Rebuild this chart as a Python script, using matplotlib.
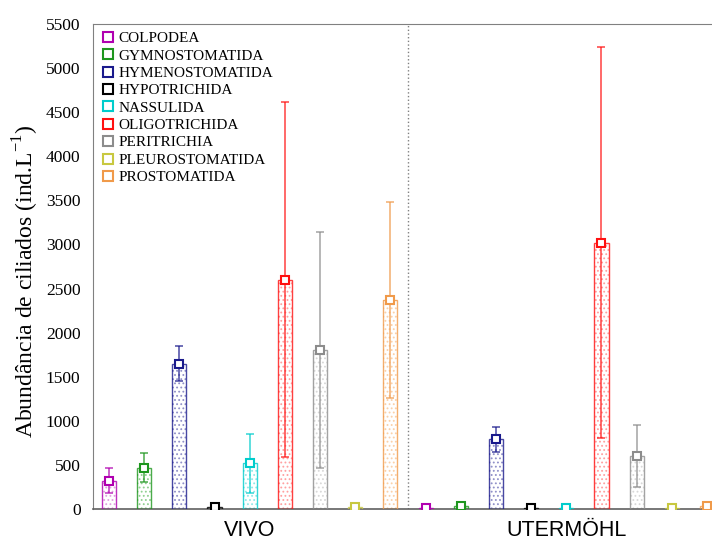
import matplotlib
matplotlib.use("Agg")
import matplotlib.pyplot as plt
from matplotlib.lines import Line2D
import numpy as np

groups = ["VIVO", "UTERMÖHL"]
taxa = ["COLPODEA", "GYMNOSTOMATIDA", "HYMENOSTOMATIDA", "HYPOTRICHIDA",
        "NASSULIDA", "OLIGOTRICHIDA", "PERITRICHIA", "PLEUROSTOMATIDA", "PROSTOMATIDA"]
colors = ["#B000B0", "#1E961E", "#1A1A8C", "#000000", "#00CCCC",
          "#FF1010", "#8C8C8C", "#C8C840", "#F09A4A"]
light = ["#E0A0E0", "#90D090", "#9090C8", "#909090", "#90E8E8",
         "#FFA0A0", "#D8D8D8", "#E8E8A8", "#FAD0A8"]

vivo_mean = [320, 470, 1650, 20, 520, 2600, 1800, 20, 2370]
vivo_err = [140, 160, 200, 0, 335, 2010, 1340, 0, 1110]
uter_mean = [10, 30, 790, 10, 10, 3020, 600, 10, 35]
uter_err = [0, 0, 145, 0, 0, 2220, 350, 0, 0]

plt.rcParams['font.family'] = ['Liberation Serif', 'DejaVu Serif']
plt.rcParams['hatch.linewidth'] = 0.8

fig = plt.figure(figsize=(7.12, 5.4), dpi=100)
ax = fig.add_axes([93/712, 31/540, (723-93)/712, (509-24)/540])

n = len(taxa)
for g, (means, errs) in enumerate([(vivo_mean, vivo_err), (uter_mean, uter_err)]):
    for i in range(n):
        x = g * n + i
        m = means[i]
        e = errs[i]
        ax.bar(x, m, width=0.4, facecolor="white", edgecolor=light[i],
               hatch="....", linewidth=0, zorder=2)
        ax.bar(x, m, width=0.4, facecolor="none", edgecolor=colors[i],
               linewidth=1.0, alpha=0.8, zorder=3)
        if e > 0:
            ax.errorbar(x, m, yerr=e, fmt="none", ecolor=colors[i], alpha=0.8,
                        elinewidth=1.1, capsize=3, capthick=1.1, zorder=4)
        ax.plot(x, m, marker="s", markersize=5.5, markerfacecolor="white",
                markeredgecolor=colors[i], markeredgewidth=1.5, zorder=5)

ax.axvline(n - 0.5, color="#808080", linestyle=":", linewidth=1.0, zorder=1)

ax.set_xlim(-0.455, 2 * n - 0.545)
ax.set_ylim(0, 5500)
ax.set_yticks(np.arange(0, 5501, 500))
ax.set_yticklabels([str(v) for v in range(0, 5501, 500)],
                   family=["Liberation Serif", "DejaVu Serif"], fontsize=12.5)
ax.tick_params(axis="y", length=0, pad=9)
ax.set_xticks([4, 13])
ax.set_xticklabels(groups, family=["Liberation Sans", "DejaVu Sans"], fontsize=15.5)
ax.tick_params(axis="x", length=0, pad=8)

for s in ["left", "top"]:
    ax.spines[s].set_color("#808080")
ax.spines["bottom"].set_color("#606060")
ax.spines["bottom"].set_linewidth(1.2)
ax.spines["right"].set_visible(False)

ax.set_ylabel("Abundância de ciliados (ind.L$^{\\mathregular{-1}}$)", fontsize=17)
ax.yaxis.set_label_coords(-0.082, 0.47)

handles = [Line2D([], [], marker="s", linestyle="none", markersize=7.5,
                  markerfacecolor="white", markeredgecolor=c, markeredgewidth=1.5)
           for c in colors]
ax.legend(handles, taxa, loc="upper left", bbox_to_anchor=(0.0, 1.0), frameon=False,
          fontsize=11, handletextpad=0.25, labelspacing=0.24, borderaxespad=0.2,
          handlelength=0.9, borderpad=0.3)

fig.savefig("out.png", dpi=100)
